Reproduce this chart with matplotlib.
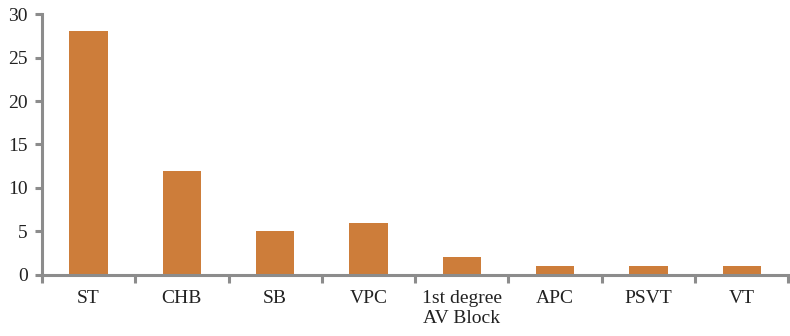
import matplotlib
matplotlib.use("Agg")
import matplotlib.pyplot as plt
import numpy as np

categories = ["ST", "CHB", "SB", "VPC", "1st degree\nAV Block", "APC", "PSVT", "VT"]
counts = [28, 12, 5, 6, 2, 1, 1, 1]
yticks = [0, 5, 10, 15, 20, 25, 30]

bar_color = "#CD7D3A"
axis_color = "#8C8C8C"

plt.rcParams["font.family"] = ["Liberation Serif", "DejaVu Serif"]

fig = plt.figure(figsize=(7.9, 3.36), dpi=100)
ax = fig.add_axes([0.053, 0.182, 0.945, 0.776])

x = np.arange(len(categories))
ax.bar(x, counts, width=0.41, color=bar_color, zorder=2)

ax.set_xlim(-0.5, len(categories) - 0.5)
ax.set_ylim(0, 30)
ax.set_yticks(yticks)
ax.set_xticks(x)
ax.set_xticklabels(categories, linespacing=1.25)
ax.set_xticks(np.arange(len(categories) + 1) - 0.5, minor=True)

for side in ("top", "right"):
    ax.spines[side].set_visible(False)
for side in ("left", "bottom"):
    ax.spines[side].set_color(axis_color)
    ax.spines[side].set_linewidth(2.2)

ax.tick_params(axis="y", direction="out", length=5, width=2.2, color=axis_color,
               labelsize=14, labelcolor="#222222", pad=5)
ax.tick_params(axis="x", which="major", length=0, labelsize=14, labelcolor="#222222", pad=11)
ax.tick_params(axis="x", which="minor", direction="out", length=6, width=2.2, color=axis_color)

fig.savefig("out.png", dpi=100)
